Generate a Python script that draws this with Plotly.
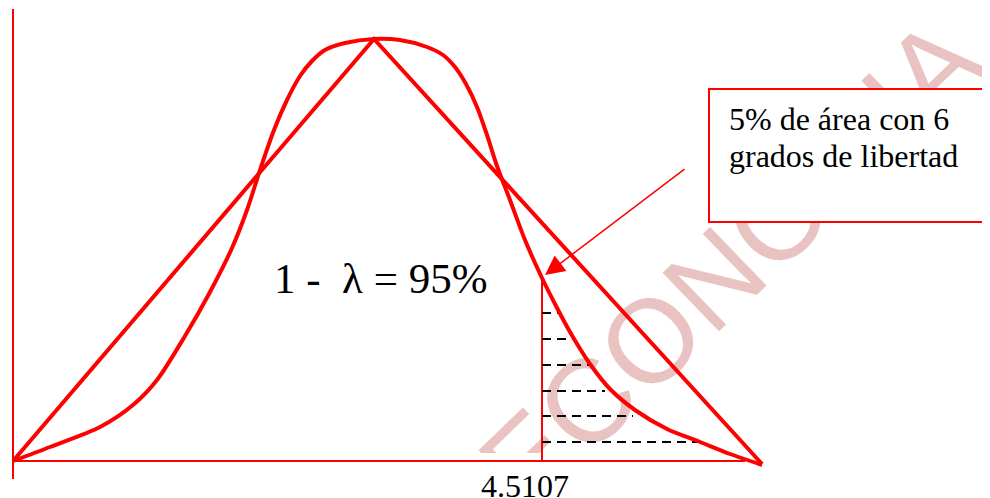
import plotly.graph_objects as go

# ---- data (diagram units: x to the right of the vertical axis, y above the horizontal axis) ----
curve_x = [0, 37, 87, 120, 144, 172, 197, 219, 234, 247, 261, 274, 287, 299, 312, 332, 361, 387, 414, 430,
           442, 453, 464, 474, 484, 497, 512, 529, 542, 557, 577, 597, 622, 654, 687, 717, 749]
curve_y = [0, 14, 34, 56, 81, 125, 169, 213, 251, 291, 331, 361, 385, 400, 411, 418, 422, 421, 414, 406,
           394, 377, 354, 326, 295, 261, 221, 183, 157, 129, 97, 72, 51, 32, 19, 7, -4]

triangle_x = [0, 361, 749]
triangle_y = [0, 422, -3]

critical_x = 529          # position of 4.5107 on the horizontal axis
critical_height = 183     # curve height at the critical value

hatch_y = [148, 122, 96, 70, 45, 19]
hatch_end_x = [545, 562, 579, 592, 620, 689]

critical_label = "4.5107"
area_label = "1 -\u00a0 \u03bb = 95%"
box_line1 = "5% de área con 6"
box_line2 = "grados de libertad"
watermark = "ECONOMIA"

RED = "#FF0000"
SERIF = "Liberation Serif, Times New Roman"

fig = go.Figure()

def seg(x, y, **line):
    fig.add_trace(go.Scatter(x=x, y=y, mode="lines", line=line,
                             hoverinfo="skip", showlegend=False))

# axes drawn as lines
seg([0, 0], [-18, 452], color=RED, width=2)
seg([0, 732], [0, 0], color=RED, width=2)
# critical vertical line
seg([critical_x, critical_x], [0, critical_height], color=RED, width=2)
# hatching dashes
for hy, hx in zip(hatch_y, hatch_end_x):
    seg([critical_x, hx], [hy, hy], color="black", width=2, dash="9px,6px")
# triangle
seg(triangle_x, triangle_y, color=RED, width=4)
# bell curve
seg(curve_x, curve_y, color=RED, width=4, shape="spline", smoothing=0.8)

shapes = [
    # watermark (below the traces)
    dict(type="rect", xref="x", yref="y", x0=660, x1=760, y0=156, y1=256,
         line=dict(width=0), fillcolor="rgba(0,0,0,0)", layer="below",
         label=dict(text=watermark, textangle=-44, textposition="middle center",
                    font=dict(family="Liberation Sans, Arial", size=118, color="rgb(233,194,194)"))),
    # white areas that hide parts of the watermark
    dict(type="rect", xref="x", yref="y", x0=680, x1=1000, y0=434, y1=480,
         line=dict(width=0), fillcolor="white", layer="below"),
    dict(type="rect", xref="x", yref="y", x0=457, x1=707, y0=-50, y1=8,
         line=dict(width=0), fillcolor="white", layer="below"),
    # text box
    dict(type="rect", xref="x", yref="y", x0=696, x1=1000, y0=239, y1=372,
         line=dict(color=RED, width=2), fillcolor="white", layer="below"),
]

annotations = [
    dict(x=714, y=342, xref="x", yref="y", text=box_line1, showarrow=False,
         xanchor="left", yanchor="middle", font=dict(family=SERIF, size=32, color="black")),
    dict(x=714, y=305, xref="x", yref="y", text=box_line2, showarrow=False,
         xanchor="left", yanchor="middle", font=dict(family=SERIF, size=32, color="black")),
    dict(x=259, y=183, xref="x", yref="y", text=area_label, showarrow=False,
         xanchor="left", yanchor="middle", font=dict(family=SERIF, size=43, color="black")),
    dict(x=512, y=-25, xref="x", yref="y", text=critical_label, showarrow=False,
         xanchor="center", yanchor="middle", font=dict(family=SERIF, size=32, color="black")),
    dict(x=532, y=186, xref="x", yref="y", ax=673, ay=293, axref="x", ayref="y",
         text="", showarrow=True, arrowhead=2, arrowsize=2.6, arrowwidth=1.5,
         arrowcolor=RED, standoff=0),
]

# the page body has an 8px margin, so the axis ranges are offset to compensate
fig.update_layout(
    width=990, height=498,
    margin=dict(l=0, r=0, t=0, b=0),
    paper_bgcolor="white", plot_bgcolor="white",
    xaxis=dict(range=[-5, 985], visible=False, showgrid=False, zeroline=False, fixedrange=True),
    yaxis=dict(range=[-45, 453], visible=False, showgrid=False, zeroline=False, fixedrange=True),
    shapes=shapes, annotations=annotations, showlegend=False,
)

fig.write_html("out.html")
